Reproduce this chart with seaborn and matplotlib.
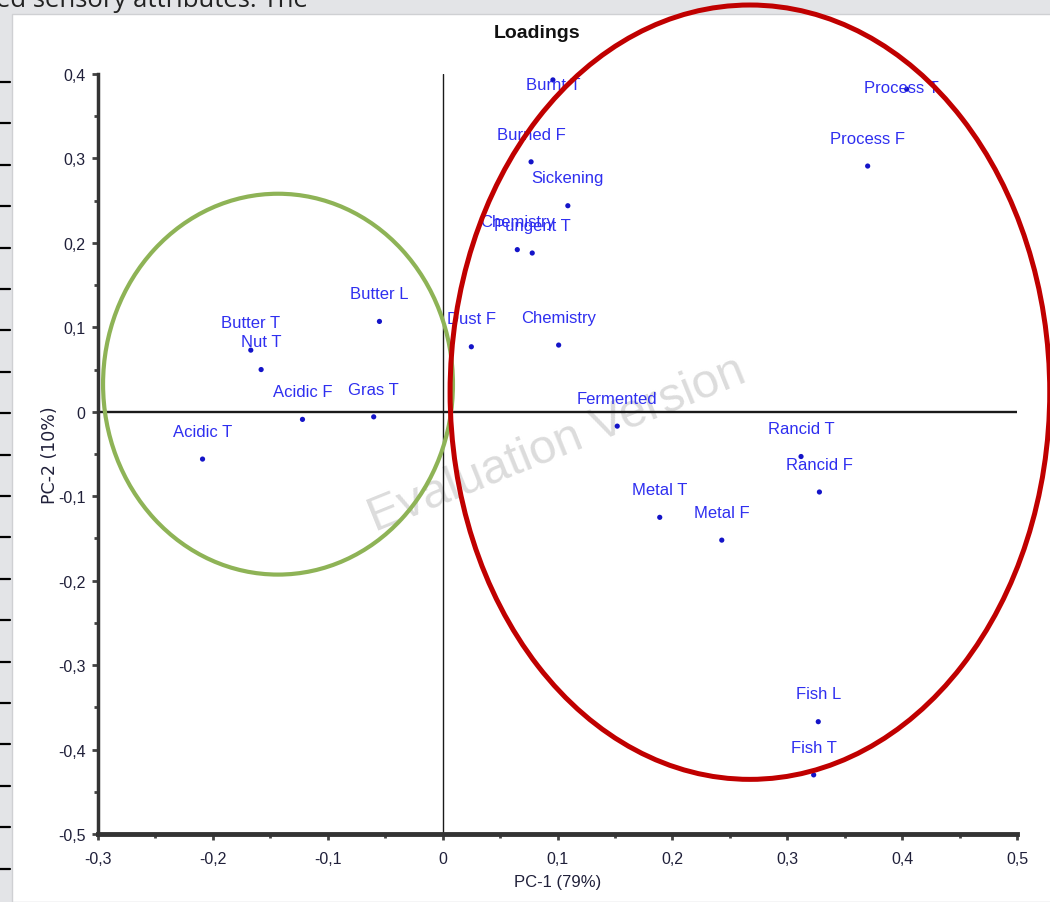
import matplotlib
matplotlib.use("Agg")
import matplotlib.pyplot as plt
from matplotlib.patches import Ellipse, Rectangle
from matplotlib.lines import Line2D
from matplotlib.ticker import MultipleLocator, FuncFormatter
import pandas as pd
import seaborn as sns

# loadings
attributes = ["Burnt T", "Burned F", "Sickening", "Chemistry", "Pungent T", "Process T",
              "Process F", "Butter L", "Butter T", "Nut T", "Acidic F", "Gras T",
              "Acidic T", "Dust F", "Chemistry", "Fermented", "Metal T", "Metal F",
              "Rancid T", "Rancid F", "Fish L", "Fish T"]
pc1 = [0.096, 0.077, 0.109, 0.065, 0.078, 0.404, 0.370, -0.055, -0.167, -0.158,
       -0.122, -0.060, -0.209, 0.025, 0.101, 0.152, 0.189, 0.243, 0.312, 0.328,
       0.327, 0.323]
pc2 = [0.393, 0.296, 0.244, 0.192, 0.188, 0.382, 0.291, 0.107, 0.073, 0.050,
       -0.009, -0.006, -0.056, 0.077, 0.079, -0.017, -0.125, -0.152, -0.053, -0.095,
       -0.367, -0.430]

loadings = pd.DataFrame({"attribute": attributes, "PC1": pc1, "PC2": pc2})

# label offsets (points); default is centred just above the dot
label_offset = {0: (0, -3.6), 5: (-3.6, 1.4)}

sns.set_style("white")
narrow = ["Liberation Sans Narrow", "Liberation Sans", "DejaVu Sans"]
plt.rcParams["font.family"] = narrow

fig = plt.figure(figsize=(10.5, 9.03), dpi=100)
fig.patch.set_facecolor("#e3e4e7")

# slide background: white panel, cut-off caption, ruler ticks on the left
fig.patches.append(Rectangle((12 / 1050, 0), 1, 1 - 15 / 903, transform=fig.transFigure,
                             facecolor="white", edgecolor="#cfd0d3", lw=1, zorder=-10))
fig.text(-0.004, 1 - 7 / 903, "ed sensory attributes. The", fontsize=18.5, color="#222222",
         family=["Open Sans", "DejaVu Sans"], va="baseline", ha="left")
for i in range(20):
    yy = 1 - (83 + i * 41.4) / 903
    fig.lines.append(Line2D([0, 10 / 1050], [yy, yy], transform=fig.transFigure,
                            color="black", lw=1.6))

ax = fig.add_axes([98 / 1050, 68 / 903, 919 / 1050, 760 / 903])
ax.set_facecolor("white")

ax.axhline(0, color="#1a1a1a", lw=1.7, zorder=1)
ax.axvline(0, color="#1a1a1a", lw=1.0, zorder=1)

# watermark
ax.text(0.4995, 0.513, "Evaluation Version", transform=ax.transAxes, rotation=22,
        rotation_mode="anchor", ha="center", va="center", fontsize=35,
        family=["Liberation Sans", "DejaVu Sans"], color="#dcdcdc", zorder=0)

sns.scatterplot(data=loadings, x="PC1", y="PC2", color="#1414c8", s=14,
                edgecolor="none", ax=ax, zorder=3)

for i, row in loadings.iterrows():
    dx, dy = label_offset.get(i, (0, 20))
    ax.annotate(row["attribute"], (row["PC1"], row["PC2"]), xytext=(dx, dy),
                textcoords="offset points", ha="center", va="center",
                fontsize=12, color="#2f2ff0", zorder=4)

ax.set_xlim(-0.3, 0.5)
ax.set_ylim(-0.5, 0.4)

fmt = FuncFormatter(lambda v, p: "0" if abs(v) < 1e-9 else f"{v:.1f}".replace(".", ","))
ax.xaxis.set_major_locator(MultipleLocator(0.1))
ax.xaxis.set_minor_locator(MultipleLocator(0.05))
ax.yaxis.set_major_locator(MultipleLocator(0.1))
ax.yaxis.set_minor_locator(MultipleLocator(0.05))
ax.xaxis.set_major_formatter(fmt)
ax.yaxis.set_major_formatter(fmt)
ax.tick_params(axis="both", which="major", direction="out", length=4, width=2,
               color="#444444", labelsize=11.5, labelcolor="#20203a", pad=5,
               bottom=True, left=True)
ax.tick_params(axis="x", which="major", pad=8)
ax.tick_params(axis="both", which="minor", direction="out", length=3, width=2,
               color="#444444", bottom=True, left=True)

for side in ["top", "right"]:
    ax.spines[side].set_visible(False)
ax.spines["left"].set_color("#333333")
ax.spines["left"].set_linewidth(2.5)
ax.spines["bottom"].set_color("#333333")
ax.spines["bottom"].set_linewidth(3.5)

ax.set_xlabel("PC-1 (79%)", fontsize=12, color="#20203a", labelpad=6)
ax.set_ylabel("PC-2 (10%)", fontsize=12.5, color="#20203a",
              family=["DejaVu Sans"])
ax.yaxis.set_label_coords(-0.042, 0.5)

fig.text(537 / 1050, 1 - 33 / 903, "Loadings", fontsize=14, fontweight="bold",
         ha="center", va="center", color="#111111")

# cluster ellipses drawn over the plot
ax.add_patch(Ellipse((-0.1433, 0.0327), 0.3046, 0.451, fill=False, edgecolor="#8eb356",
                     lw=3.0, clip_on=False, zorder=5))
ax.add_patch(Ellipse((0.2675, 0.0232), 0.522, 0.917, fill=False, edgecolor="#c00000",
                     lw=3.6, clip_on=False, zorder=5))

fig.savefig("out.png", dpi=100, facecolor=fig.get_facecolor())
